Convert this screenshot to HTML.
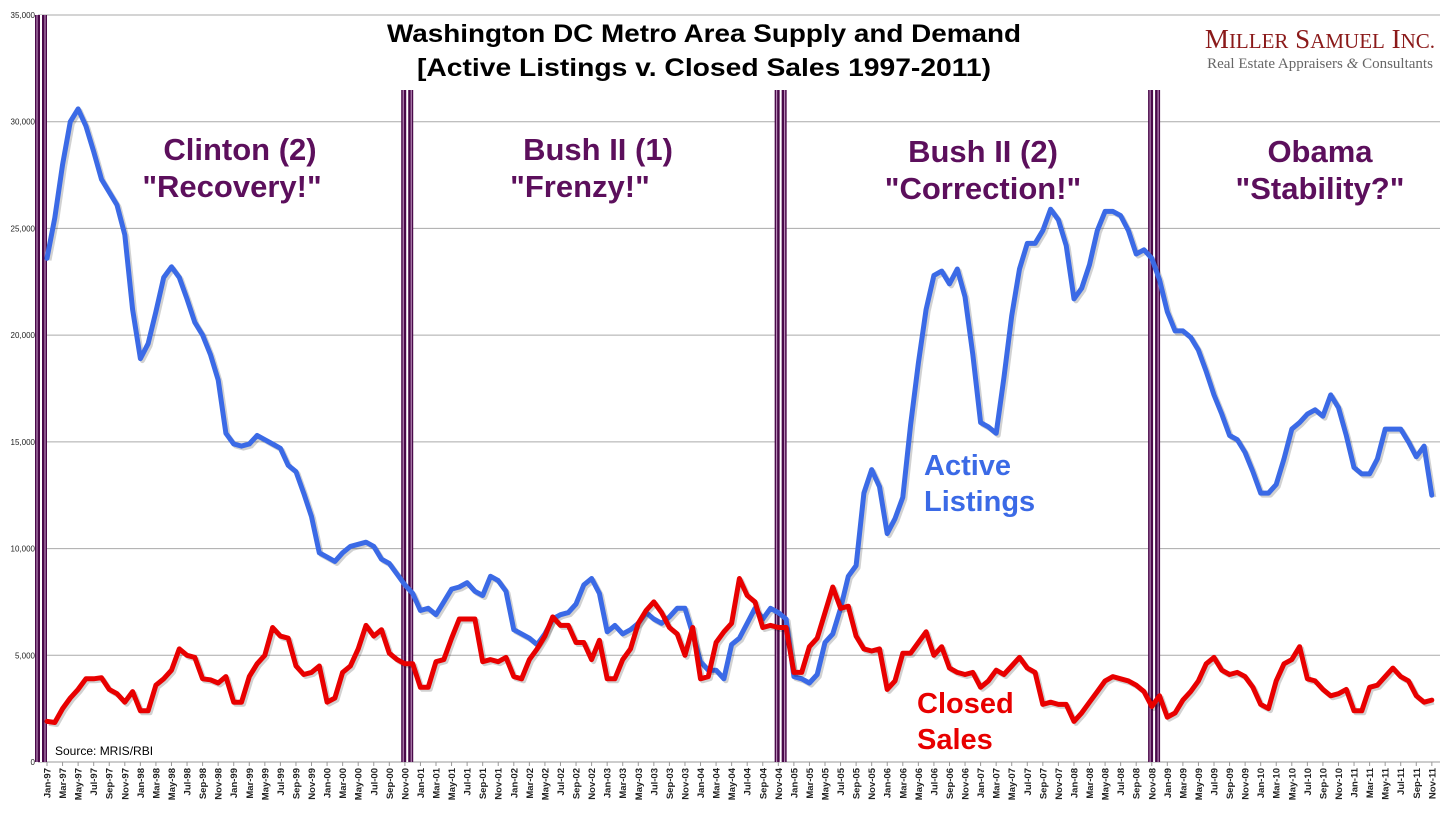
<!DOCTYPE html>
<html><head><meta charset="utf-8"><style>
body{margin:0;background:#fff;}
svg{display:block;font-family:"Liberation Sans",sans-serif;}
</style></head><body>
<svg id="chart" width="1456" height="832" viewBox="0 0 1456 832">
<g id="grid"></g>
<g id="xlabels"></g>
<g id="ylabels"></g>
<g id="dividers"></g>
<g id="series"></g>
<text x="704" y="42" text-anchor="middle" font-size="25" font-weight="bold" textLength="634" lengthAdjust="spacingAndGlyphs">Washington DC Metro Area Supply and Demand</text>
<text x="704" y="76" text-anchor="middle" font-size="25" font-weight="bold" textLength="574" lengthAdjust="spacingAndGlyphs">[Active Listings v. Closed Sales 1997-2011)</text>
<text x="1320" y="48" text-anchor="middle" font-family="Liberation Serif,serif" font-size="27" fill="#8b1a1a">M<tspan font-size="21">ILLER</tspan> S<tspan font-size="21">AMUEL</tspan> I<tspan font-size="21">NC.</tspan></text>
<text x="1320" y="68" text-anchor="middle" font-family="Liberation Serif,serif" font-size="15" fill="#666">Real Estate Appraisers <tspan font-style="italic">&amp;</tspan> Consultants</text>
<g font-weight="bold" font-size="31" fill="#5c0f5c" text-anchor="middle">
<text x="240" y="160">Clinton (2)</text>
<text x="232" y="197">"Recovery!"</text>
<text x="598" y="160">Bush II (1)</text>
<text x="580" y="197">"Frenzy!"</text>
<text x="983" y="162">Bush II (2)</text>
<text x="983" y="199">"Correction!"</text>
<text x="1320" y="162">Obama</text>
<text x="1320" y="199">"Stability?"</text>
</g>
<text x="924" y="475" font-weight="bold" font-size="29" fill="#3b6ae6">Active</text>
<text x="924" y="511" font-weight="bold" font-size="29" fill="#3b6ae6">Listings</text>
<text x="917" y="713" font-weight="bold" font-size="29" fill="#e80000">Closed</text>
<text x="917" y="749" font-weight="bold" font-size="29" fill="#e80000">Sales</text>
<text x="55" y="755" font-size="12">Source: MRIS/RBI</text>
</svg>
<script>
const monthNames = ["Jan","Feb","Mar","Apr","May","Jun","Jul","Aug","Sep","Oct","Nov","Dec"];
const yTicks = [0,5000,10000,15000,20000,25000,30000,35000];
const eraBoundaries = [0, 46.3, 94.3, 142.3];
const activeListings = [
23600,25500,28000,30000,30600,29800,28600,27300,26700,26100,24700,21200,
18900,19600,21100,22700,23200,22700,21700,20600,20000,19100,17900,15400,
14900,14800,14900,15300,15100,14900,14700,13900,13600,12600,11500,9800,
9600,9400,9800,10100,10200,10300,10100,9500,9300,8800,8300,7900,
7100,7200,6900,7500,8100,8200,8400,8000,7800,8700,8500,8000,
6200,6000,5800,5500,6000,6700,6900,7000,7400,8300,8600,7900,
6100,6400,6000,6200,6500,7000,6700,6500,6800,7200,7200,6000,
4700,4300,4300,3900,5500,5800,6500,7200,6700,7200,7000,6700,
4000,3900,3700,4100,5600,6000,7200,8700,9200,12600,13700,12900,
10700,11400,12400,15800,18700,21200,22800,23000,22400,23100,21800,19100,
15900,15700,15400,18000,20900,23100,24300,24300,24900,25900,25400,24200,
21700,22200,23300,24900,25800,25800,25600,24900,23800,24000,23600,22600,
21100,20200,20200,19900,19300,18300,17200,16300,15300,15100,14500,13600,
12600,12600,13000,14200,15600,15900,16300,16500,16200,17200,16600,15300,
13800,13500,13500,14200,15600,15600,15600,15000,14300,14800,12500];
const closedSales = [
1900,1850,2500,3000,3400,3900,3900,3950,3400,3200,2800,3300,
2400,2400,3600,3900,4300,5300,5000,4900,3900,3850,3700,4000,
2800,2800,4000,4600,5000,6300,5900,5800,4500,4100,4200,4500,
2800,3000,4200,4500,5300,6400,5900,6200,5100,4800,4600,4600,
3500,3500,4700,4800,5800,6700,6700,6700,4700,4800,4700,4900,
4000,3900,4800,5300,5900,6800,6400,6400,5600,5600,4800,5700,
3900,3900,4800,5300,6500,7100,7500,7000,6300,6000,5000,6300,
3900,4000,5600,6100,6500,8600,7800,7500,6300,6400,6300,6300,
4200,4200,5400,5800,7000,8200,7200,7300,5900,5300,5200,5300,
3400,3800,5100,5100,5600,6100,5000,5400,4400,4200,4100,4200,
3500,3800,4300,4100,4500,4900,4400,4200,2700,2800,2700,2700,
1900,2300,2800,3300,3800,4000,3900,3800,3600,3300,2600,3100,
2100,2300,2900,3300,3800,4600,4900,4300,4100,4200,4000,3500,
2700,2500,3800,4600,4800,5400,3900,3800,3400,3100,3200,3400,
2400,2400,3500,3600,4000,4400,4000,3800,3100,2800,2900];
const startYear = 1997;

const NS="http://www.w3.org/2000/svg";
const X0=47, STEP=7.78, Y0=762, YTOP=15, YMAX=35000, PL=38, PR=1440;
const xs=i=>X0+i*STEP;
const ys=v=>Y0-(v/YMAX)*(Y0-YTOP);
function mk(tag,attrs,parent){const e=document.createElementNS(NS,tag);for(const k in attrs)e.setAttribute(k,attrs[k]);parent.appendChild(e);return e;}
const grid=document.getElementById('grid'),yl=document.getElementById('ylabels'),xl=document.getElementById('xlabels'),dv=document.getElementById('dividers'),sr=document.getElementById('series');
yTicks.forEach(v=>{
  mk('line',{x1:PL,x2:PR,y1:ys(v),y2:ys(v),stroke:v===0?'#999':'#aaa','stroke-width':1},grid);
  const t=mk('text',{x:35,y:ys(v)+3,'text-anchor':'end','font-size':8,fill:'#222'},yl);
  t.textContent=v.toLocaleString('en-US');
  
  
});
mk('line',{x1:PL,x2:PL,y1:YTOP,y2:Y0,stroke:'#999'},grid);
for(let i=0;i<180;i+=2){
  const x=xs(i);
  mk('line',{x1:x,x2:x,y1:Y0,y2:Y0+4,stroke:'#999'},xl);
  const lab=monthNames[i%12]+'-'+String((startYear+Math.floor(i/12))%100).padStart(2,'0');
  const t=mk('text',{x:0,y:0,'text-anchor':'end','font-size':9.5,fill:'#222','font-weight':'bold',transform:`translate(${x+3.5},${Y0+6}) rotate(-90)`},xl);
  t.textContent=lab;
  
  
}
eraBoundaries.forEach((b,k)=>{
  const x=k===0?41:xs(b);
  const top=k===0?YTOP:90;
  const g=mk('g',{},dv);
  
  
  mk('rect',{x:x-6,y:top,width:12,height:Y0-top,fill:'#4a0a4a'},g);
  mk('rect',{x:x-1,y:top,width:2,height:Y0-top,fill:'#fff'},g);
  mk('rect',{x:x-4.5,y:top,width:1,height:Y0-top,fill:'#c9a0c9'},g);
  mk('rect',{x:x+3.5,y:top,width:1,height:Y0-top,fill:'#c9a0c9'},g);
});
function series(arr,color,name){
  const pts=arr.map((v,i)=>xs(i).toFixed(1)+','+ys(v).toFixed(1)).join(' ');
  mk('polyline',{points:pts,fill:'none',stroke:'rgba(0,0,0,0.18)','stroke-width':5,'stroke-linejoin':'round',transform:'translate(2,2)'},sr);
  const p=mk('polyline',{points:pts,fill:'none',stroke:color,'stroke-width':5,'stroke-linejoin':'round','stroke-linecap':'round'},sr);
  
  
}
series(activeListings,'#3b6ae6','active-listings-line');
series(closedSales,'#e80000','closed-sales-line');
</script>
</body></html>
